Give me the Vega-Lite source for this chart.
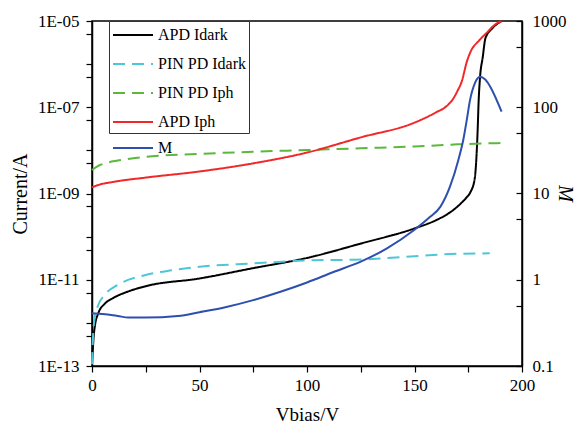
{
  "$schema": "https://vega.github.io/schema/vega-lite/v6.json",
  "autosize": {"type": "none"},
  "width": 430,
  "height": 345,
  "padding": {"left": 92, "top": 21, "right": 61, "bottom": 66},
  "background": "white",
  "config": {
    "font": "Liberation Serif",
    "view": {"stroke": "black", "strokeWidth": 1.5},
    "axis": {
      "grid": false,
      "domainColor": "black",
      "domainWidth": 1.5,
      "tickColor": "black",
      "tickWidth": 1.2,
      "tickSize": 6,
      "labelColor": "black",
      "titleColor": "black",
      "labelFont": "Liberation Serif",
      "titleFont": "Liberation Serif",
      "labelFontSize": 17,
      "titleFontSize": 20,
      "titleFontWeight": "normal",
      "labelOverlap": false
    }
  },
  "datasets": {
    "cur": [
      {"s": "APD Idark", "v": 0, "i": 1.17e-13},
      {"s": "APD Idark", "v": 0.4, "i": 2.5e-13},
      {"s": "APD Idark", "v": 0.8, "i": 5e-13},
      {"s": "APD Idark", "v": 1.4, "i": 8.9e-13},
      {"s": "APD Idark", "v": 2.9, "i": 1.66e-12},
      {"s": "APD Idark", "v": 6, "i": 2.8e-12},
      {"s": "APD Idark", "v": 10, "i": 3.8e-12},
      {"s": "APD Idark", "v": 18, "i": 5.6e-12},
      {"s": "APD Idark", "v": 25, "i": 7.1e-12},
      {"s": "APD Idark", "v": 50, "i": 1.07e-11},
      {"s": "APD Idark", "v": 75, "i": 1.86e-11},
      {"s": "APD Idark", "v": 100, "i": 3.2e-11},
      {"s": "APD Idark", "v": 125, "i": 6.9e-11},
      {"s": "APD Idark", "v": 150, "i": 1.55e-10},
      {"s": "APD Idark", "v": 160, "i": 2.4e-10},
      {"s": "APD Idark", "v": 166, "i": 3.5e-10},
      {"s": "APD Idark", "v": 170, "i": 5.0e-10},
      {"s": "APD Idark", "v": 174, "i": 7.9e-10},
      {"s": "APD Idark", "v": 176, "i": 1.07e-9},
      {"s": "APD Idark", "v": 178, "i": 2.2e-9},
      {"s": "APD Idark", "v": 178.9, "i": 8.5e-9},
      {"s": "APD Idark", "v": 179.4, "i": 3.2e-8},
      {"s": "APD Idark", "v": 179.8, "i": 1.26e-7},
      {"s": "APD Idark", "v": 180.5, "i": 5.1e-7},
      {"s": "APD Idark", "v": 181.7, "i": 1.4e-6},
      {"s": "APD Idark", "v": 183, "i": 4.0e-6},
      {"s": "APD Idark", "v": 186, "i": 6.6e-6},
      {"s": "APD Idark", "v": 190.5, "i": 1.0e-5},
      {"s": "PIN PD Idark", "v": 0, "i": 1.1e-13},
      {"s": "PIN PD Idark", "v": 0.5, "i": 5e-13},
      {"s": "PIN PD Idark", "v": 1.2, "i": 1.26e-12},
      {"s": "PIN PD Idark", "v": 2.5, "i": 2.3e-12},
      {"s": "PIN PD Idark", "v": 6, "i": 4.5e-12},
      {"s": "PIN PD Idark", "v": 12, "i": 7.6e-12},
      {"s": "PIN PD Idark", "v": 25, "i": 1.29e-11},
      {"s": "PIN PD Idark", "v": 37, "i": 1.66e-11},
      {"s": "PIN PD Idark", "v": 50, "i": 2.0e-11},
      {"s": "PIN PD Idark", "v": 75, "i": 2.4e-11},
      {"s": "PIN PD Idark", "v": 100, "i": 2.8e-11},
      {"s": "PIN PD Idark", "v": 125, "i": 2.95e-11},
      {"s": "PIN PD Idark", "v": 150, "i": 3.5e-11},
      {"s": "PIN PD Idark", "v": 170, "i": 4.0e-11},
      {"s": "PIN PD Idark", "v": 185, "i": 4.1e-11},
      {"s": "PIN PD Iph", "v": 0, "i": 3.5e-9},
      {"s": "PIN PD Iph", "v": 3, "i": 4.4e-9},
      {"s": "PIN PD Iph", "v": 6, "i": 5.0e-9},
      {"s": "PIN PD Iph", "v": 12, "i": 5.8e-9},
      {"s": "PIN PD Iph", "v": 25, "i": 7.1e-9},
      {"s": "PIN PD Iph", "v": 50, "i": 8.3e-9},
      {"s": "PIN PD Iph", "v": 75, "i": 9.3e-9},
      {"s": "PIN PD Iph", "v": 100, "i": 1.02e-8},
      {"s": "PIN PD Iph", "v": 125, "i": 1.12e-8},
      {"s": "PIN PD Iph", "v": 150, "i": 1.23e-8},
      {"s": "PIN PD Iph", "v": 170, "i": 1.38e-8},
      {"s": "PIN PD Iph", "v": 190.5, "i": 1.48e-8},
      {"s": "APD Iph", "v": 0, "i": 1.39e-9},
      {"s": "APD Iph", "v": 3, "i": 1.58e-9},
      {"s": "APD Iph", "v": 10, "i": 1.86e-9},
      {"s": "APD Iph", "v": 25, "i": 2.34e-9},
      {"s": "APD Iph", "v": 50, "i": 3.24e-9},
      {"s": "APD Iph", "v": 75, "i": 5.0e-9},
      {"s": "APD Iph", "v": 100, "i": 8.9e-9},
      {"s": "APD Iph", "v": 125, "i": 2.0e-8},
      {"s": "APD Iph", "v": 150, "i": 4.4e-8},
      {"s": "APD Iph", "v": 160, "i": 7.6e-8},
      {"s": "APD Iph", "v": 165, "i": 1.07e-7},
      {"s": "APD Iph", "v": 168, "i": 1.58e-7},
      {"s": "APD Iph", "v": 170, "i": 2.4e-7},
      {"s": "APD Iph", "v": 172, "i": 4.0e-7},
      {"s": "APD Iph", "v": 174.3, "i": 1.12e-6},
      {"s": "APD Iph", "v": 176, "i": 1.9e-6},
      {"s": "APD Iph", "v": 180, "i": 3.5e-6},
      {"s": "APD Iph", "v": 184, "i": 5.6e-6},
      {"s": "APD Iph", "v": 187, "i": 7.9e-6},
      {"s": "APD Iph", "v": 190.5, "i": 1.0e-5}
    ],
    "gain": [
      {"s": "M", "v": 0, "m": 0.41},
      {"s": "M", "v": 5, "m": 0.4},
      {"s": "M", "v": 12, "m": 0.38},
      {"s": "M", "v": 17, "m": 0.365},
      {"s": "M", "v": 25, "m": 0.365},
      {"s": "M", "v": 40, "m": 0.38},
      {"s": "M", "v": 50, "m": 0.42},
      {"s": "M", "v": 62, "m": 0.48},
      {"s": "M", "v": 75, "m": 0.58},
      {"s": "M", "v": 88, "m": 0.73},
      {"s": "M", "v": 100, "m": 0.93},
      {"s": "M", "v": 112, "m": 1.22},
      {"s": "M", "v": 125, "m": 1.62},
      {"s": "M", "v": 137, "m": 2.3},
      {"s": "M", "v": 150, "m": 3.8},
      {"s": "M", "v": 157, "m": 5.3},
      {"s": "M", "v": 162, "m": 7.0},
      {"s": "M", "v": 166.5, "m": 12},
      {"s": "M", "v": 170.4, "m": 24.5},
      {"s": "M", "v": 172.7, "m": 42},
      {"s": "M", "v": 174.3, "m": 71},
      {"s": "M", "v": 175.8, "m": 120},
      {"s": "M", "v": 178.1, "m": 190},
      {"s": "M", "v": 180.5, "m": 225},
      {"s": "M", "v": 190.5, "m": 89}
    ]
  },
  "layer": [
    {
      "data": {"name": "cur"},
      "mark": {"type": "line", "strokeWidth": 2, "interpolate": "monotone"},
      "encoding": {
        "x": {
          "field": "v", "type": "quantitative",
          "scale": {"domain": [0, 200]},
          "axis": {
            "title": "Vbias/V",
            "titleFontSize": 19,
            "values": [0, 25, 50, 75, 100, 125, 150, 175, 200],
            "labelExpr": "datum.value % 50 == 0 ? datum.label : ''",
            "labelFlush": false,
            "labelPadding": 5,
            "titlePadding": 12
          }
        },
        "y": {
          "field": "i", "type": "quantitative",
          "scale": {"type": "log", "domain": [1e-13, 1e-5]},
          "axis": {
            "title": "Current/A",
            "values": [1e-13, 5e-13, 1e-12, 5e-12, 1e-11, 5e-11, 1e-10, 5e-10, 1e-9, 5e-9, 1e-8, 5e-8, 1e-7, 5e-7, 1e-6, 5e-6, 1e-5],
            "labelExpr": "(abs(log(datum.value)/LN10 - round(log(datum.value)/LN10)) < 0.01 && round(log(datum.value)/LN10) % 2 != 0) ? '1E-' + (round(-log(datum.value)/LN10) < 10 ? '0' : '') + round(-log(datum.value)/LN10) : ''",
            "labelPadding": 7,
            "titlePadding": 7
          }
        },
        "color": {
          "field": "s", "type": "nominal",
          "scale": {
            "domain": ["APD Idark", "PIN PD Idark", "PIN PD Iph", "APD Iph"],
            "range": ["#000000", "#4fc6d8", "#5cb83c", "#f0282a"]
          },
          "legend": {
            "title": null,
            "orient": "none",
            "legendX": 17,
            "legendY": 0,
            "strokeColor": "#333333",
            "fillColor": "white",
            "padding": 3,
            "symbolType": "M-1,0H3",
            "symbolSize": 400,
            "symbolStrokeWidth": 2,
            "labelFont": "Liberation Serif",
            "labelFontSize": 16,
            "labelColor": "black",
            "labelOffset": 24,
            "rowPadding": 10
          }
        },
        "strokeDash": {
          "field": "s", "type": "nominal",
          "scale": {
            "domain": ["APD Idark", "PIN PD Idark", "PIN PD Iph", "APD Iph"],
            "range": [[1, 0], [12, 7], [12, 7], [1, 0]]
          }
        }
      }
    },
    {
      "data": {"name": "gain"},
      "mark": {"type": "line", "strokeWidth": 2, "interpolate": "monotone"},
      "encoding": {
        "x": {"field": "v", "type": "quantitative", "scale": {"domain": [0, 200]}},
        "y": {
          "field": "m", "type": "quantitative",
          "scale": {"type": "log", "domain": [0.1, 1000]},
          "axis": {
            "orient": "right",
            "title": "M",
            "titleFontStyle": "italic",
            "titleFontSize": 20,
            "titleX": 42,
            "titleY": 172,
            "titleBaseline": "middle",
            "titleAngle": 90,
            "values": [0.1, 0.5, 1, 5, 10, 50, 100, 500, 1000],
            "format": "~g",
            "labelExpr": "abs(log(datum.value)/LN10 - round(log(datum.value)/LN10)) < 0.01 ? datum.label : ''",
            "tickSize": -6,
            "labelPadding": 16
          }
        },
        "color": {
          "field": "s", "type": "nominal",
          "scale": {"domain": ["M"], "range": ["#2d4fae"]},
          "legend": {
            "title": null,
            "orient": "none",
            "legendX": 17,
            "legendY": 113,
            "padding": 3,
            "symbolType": "M-1,0H3",
            "symbolSize": 400,
            "symbolStrokeWidth": 2,
            "labelFont": "Liberation Serif",
            "labelFontSize": 16,
            "labelColor": "black",
            "labelOffset": 24
          }
        }
      }
    }
  ],
  "resolve": {"scale": {"y": "independent", "color": "independent", "strokeDash": "independent"}}
}
